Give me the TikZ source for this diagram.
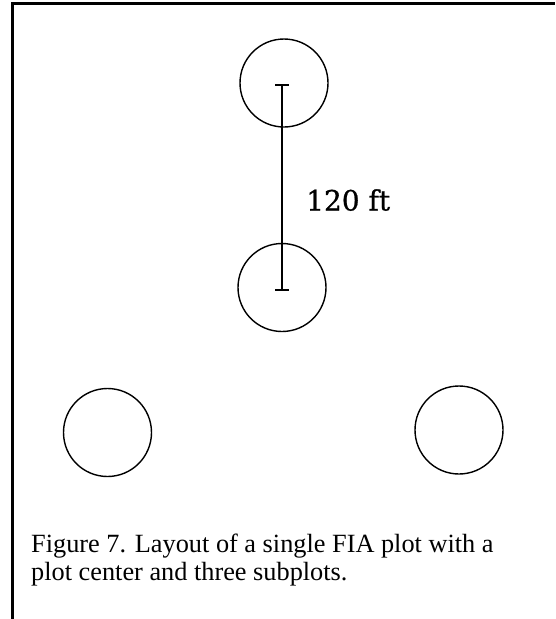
\documentclass[tikz,border=0pt]{standalone}
\usepackage{fontspec}
\setmainfont{Liberation Serif}
\newfontfamily\labelfont[FakeBold=0.8]{DejaVu Serif}
\begin{document}
\begin{tikzpicture}[x=1pt,y=-1pt,
  plotcircle/.style={circle,draw,line width=1.4pt,minimum size=88pt,inner sep=0pt},
  frameline/.style={line width=3pt},
  bar/.style={line width=1.4pt},
  caption/.style={anchor=base west,inner sep=0pt,font=\fontsize{26.3}{28}\selectfont}]
  \useasboundingbox (0,0) rectangle (555,619);
  % frame: top and left edges
  \draw[frameline] (12.5,619) -- (12.5,3.5) -- (555,3.5);
  % plot center and subplots
  \node[plotcircle] (top) at (284,83) {};
  \node[plotcircle] (center) at (282,287.5) {};
  \node[plotcircle] (left) at (107.5,432.5) {};
  \node[plotcircle] (right) at (459,430) {};
  % distance bar with end ticks
  \coordinate (a) at (282,85);
  \coordinate (b) at (282,290);
  \draw[bar] (a) -- (b);
  \draw[bar] ([xshift=-7pt]a) -- ([xshift=7pt]a);
  \draw[bar] ([xshift=-7pt]b) -- ([xshift=7pt]b);
  \node[anchor=base west,inner sep=0pt,font=\labelfont\fontsize{28}{30}\selectfont] (dist) at (306,210.5) {120 ft};
  % caption
  \node[caption] (cap1) at (31,552) {Figure 7. Layout of a single FIA plot with a};
  \node[caption] (cap2) at (31,580) {plot center and three subplots.};
\end{tikzpicture}
\end{document}
